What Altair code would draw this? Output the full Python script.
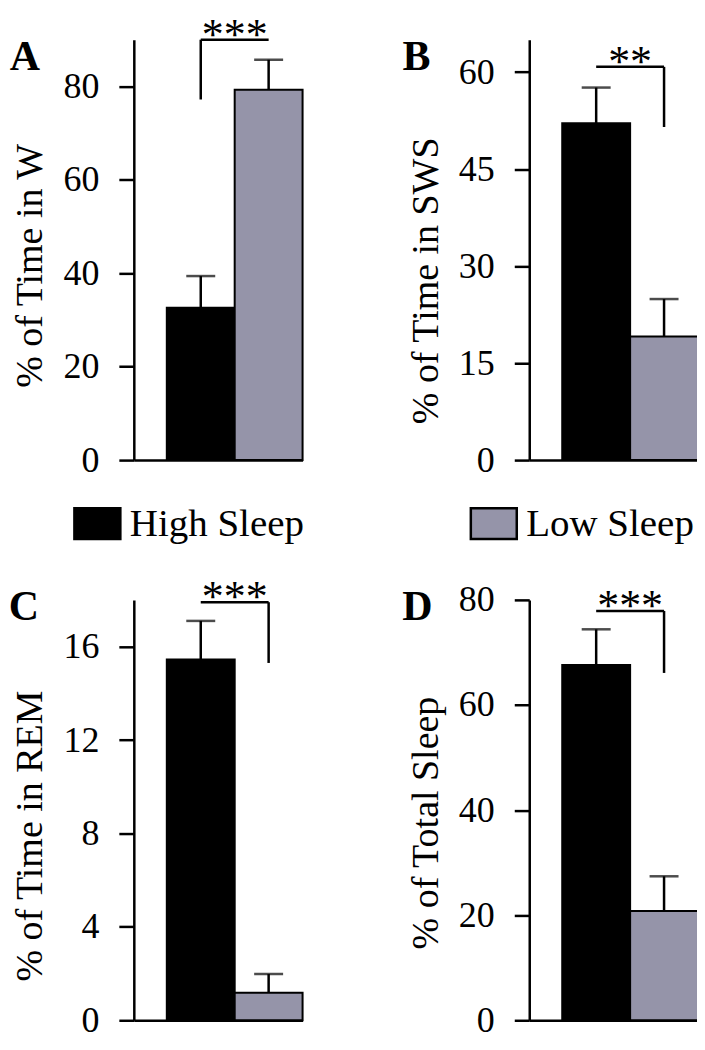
import altair as alt
import pandas as pd

# ---- data ----
groups = ["High Sleep", "Low Sleep"]
panel_letters = ["A", "B", "C", "D"]
y_titles = ["% of Time in W", "% of Time in SWS", "% of Time in REM", "% of Total Sleep"]
high_mean = [32.6, 52.1, 15.45, 67.6]
high_sem = [6.8, 5.5, 1.65, 6.8]
low_mean = [79.3, 19.1, 1.18, 20.8]
low_sem = [6.4, 5.8, 0.8, 6.6]
y_max = [90, 65, 18, 80]
y_ticks = [[0, 20, 40, 60, 80], [0, 15, 30, 45, 60], [0, 4, 8, 12, 16], [0, 20, 40, 60, 80]]
stars = ["***", "**", "***", "***"]
bracket_top = [90, 60.8, 17.9, 77.9]
bracket_end = [77.2, 51.5, 15.3, 66.1]
bracket_side = ["High Sleep", "Low Sleep", "Low Sleep", "Low Sleep"]

# ---- styles ----
FONT = "Liberation Serif"
GRAY = "#9594a9"
PANEL_W = 169
PANEL_H = 421
letter_dx = [-109, -113, -110, -112]
letter_dy = [30, 30, 20, 20]
title_y = [226, 241, 236, 223]

color_scale = alt.Scale(domain=groups, range=["#000000", GRAY])


def panel(i):
    bars = pd.DataFrame({
        "group": groups,
        "mean": [high_mean[i], low_mean[i]],
        "top": [high_mean[i] + high_sem[i], low_mean[i] + low_sem[i]],
    })
    brk = pd.DataFrame({
        "left": [groups[0]], "right": [groups[1]], "side": [bracket_side[i]],
        "ytop": [bracket_top[i]], "yend": [bracket_end[i]], "label": [stars[i]],
    })
    lab = pd.DataFrame({"letter": [panel_letters[i]]})

    xs = alt.Scale(domain=groups, paddingInner=0, paddingOuter=0.243, align=1)
    ys = alt.Scale(domain=[0, y_max[i]], nice=False, zero=True)
    xax = alt.Axis(labels=False, ticks=False, title=None)
    yax = alt.Axis(values=y_ticks[i], titleY=title_y[i])

    def X(f, **kw):
        return alt.X(f"{f}:N", scale=xs, axis=xax, title=None, **kw)

    def Y(f):
        return alt.Y(f"{f}:Q", scale=ys, axis=yax, title=y_titles[i])

    b = alt.Chart(bars).mark_bar(stroke="black", strokeWidth=2).encode(
        x=X("group"), y=Y("mean"),
        color=alt.Color("group:N", scale=color_scale, legend=alt.Legend(
            title=None, orient="none", legendX=-61, legendY=460,
            direction="horizontal", columnPadding=161,
            symbolType="M-1,-0.67H1V0.67H-1Z", symbolSize=2116,
            symbolStrokeColor="black", symbolStrokeWidth=2.5,
            labelFont=FONT, labelFontSize=39, labelColor="black",
            labelOffset=8, labelLimit=400,
        )),
    )
    err = alt.Chart(bars).mark_rule(color="black", strokeWidth=2.5).encode(
        x=X("group"), y=Y("mean"), y2="top")
    cap = alt.Chart(bars).mark_tick(color="black", thickness=2.5, size=29).encode(
        x=X("group"), y=Y("top"))
    hbr = alt.Chart(brk).mark_rule(color="black", strokeWidth=2.5).encode(
        x=X("left"), x2="right", y=Y("ytop"))
    vbr = alt.Chart(brk).mark_rule(color="black", strokeWidth=2.5).encode(
        x=X("side"), y=Y("yend"), y2="ytop")
    st = alt.Chart(brk).mark_text(font=FONT, fontSize=44, baseline="alphabetic",
                                  align="center", dy=9, color="black").encode(
        x=X("left", bandPosition=1), y=Y("ytop"), text="label:N")
    let = alt.Chart(lab).mark_text(font=FONT, fontSize=42, fontWeight="bold",
                                   baseline="alphabetic", align="center",
                                   color="black").encode(
        x=alt.value(letter_dx[i]), y=alt.value(letter_dy[i]), text="letter:N")
    return alt.layer(b, err, cap, hbr, vbr, st, let).properties(
        width=PANEL_W, height=PANEL_H)


chart = alt.ConcatChart(
    concat=[panel(i) for i in range(4)],
    columns=2,
    spacing=alt.RowColnumber(row=140, column=227),
    bounds="flush",
).properties(
    padding={"left": 0, "top": 5, "right": -2, "bottom": 0}
).configure_view(stroke=None).configure_axis(
    domainColor="black", domainWidth=2.5, tickColor="black", tickWidth=2.5,
    tickSize=15, labelFont=FONT, labelFontSize=36, labelColor="black",
    labelPadding=20, labelFlush=False, titleFont=FONT, titleFontSize=38,
    titleFontWeight="normal", titleColor="black", titlePadding=13, grid=False,
)

chart.save("out.html", embed_options={"renderer": "svg", "actions": False})
